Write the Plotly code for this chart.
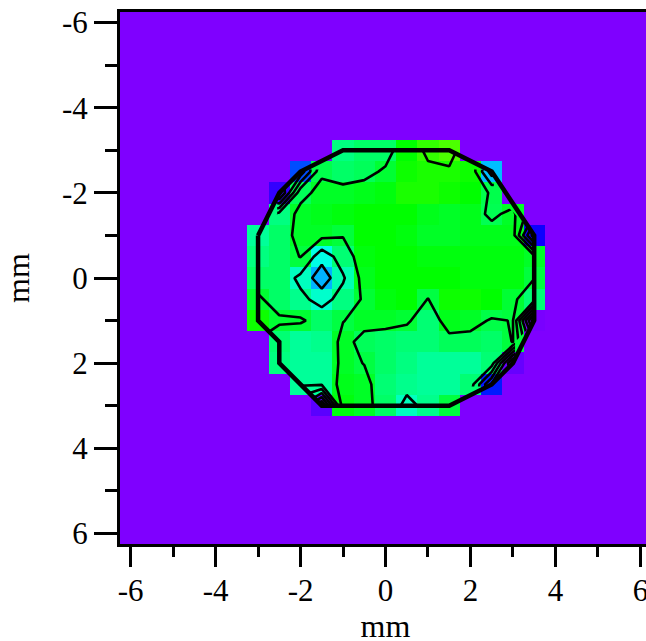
import numpy as np
import plotly.graph_objects as go

N = None
x_vals = [-3, -2.5, -2, -1.5, -1, -0.5, 0, 0.5, 1, 1.5, 2, 2.5, 3, 3.5]
y_vals = [-3, -2.5, -2, -1.5, -1, -0.5, 0, 0.5, 1, 1.5, 2, 2.5, 3]
z_m30 = [N, N, N, N, 2.5, 2.6, 2.6, 3.0, 3.2, 3.3, N, N, N, N]
z_m25 = [N, N, 1.3, 2.7, 2.6, 2.65, 2.8, 3.05, 3.1, 3.1, 3.05, 1.75, N, N]
z_m20 = [N, .6, 2.65, 2.85, 2.85, 2.9, 2.95, 3.1, 3.1, 3.05, 3.0, 2.7, N, N]
z_m15 = [N, 2.5, 2.85, 2.9, 2.95, 3, 3, 3, 2.9, 2.85, 2.9, 2.68, 2.85, N]
z_m10 = [2.4, 2.6, 2.85, 2.85, 2.77, 3, 3, 2.95, 2.85, 2.85, 2.9, 2.9, 2.9, .9]
z_m05 = [2.5, 2.6, 2.76, 2.1, 2.55, 2.95, 3, 3, 2.95, 2.95, 2.95, 2.95, 2.95, 2.85]
z_p00 = [2.6, 2.6, 2.25, 1.7, 2.3, 2.9, 3, 3, 3, 3, 2.95, 2.95, 2.95, 2.76]
z_p05 = [2.8, 2.6, 2.45, 2.2, 2.5, 2.8, 2.95, 3, 2.74, 3.05, 3.05, 3, 2.8, 2.55]
z_p10 = [3.05, 2.8, 2.8, 2.6, 2.74, 2.85, 2.85, 2.8, 2.55, 2.9, 2.85, 2.72, 2.76, .05]
z_p15 = [N, 2.55, 2.4, 2.45, 2.85, 2.65, 2.6, 2.55, 2.55, 2.65, 2.65, 2.6, 2.76, N]
z_p20 = [N, 2.5, 2.4, 2.4, 2.85, 2.74, 2.6, 2.5, 2.4, 2.4, 2.4, 2.55, .2, N]
z_p25 = [N, N, 2.4, 2.4, 2.9, 2.85, 2.55, 2.45, 2.4, 2.4, 2.55, 1.1, N, N]
z_p30 = [N, N, N, .3, 2.95, 2.85, 2.6, 2.25, 2.45, 2.75, N, N, N, N]
z_rows = [z_m30, z_m25, z_m20, z_m15, z_m10, z_m05, z_p00, z_p05, z_p10, z_p15, z_p20, z_p25, z_p30]

hull_x = [-3, -2.5, -2, -1, 1.5, 2.5, 3.5, 3.5, 3, 2.5, 1.5, -1.5, -2, -2.5, -2.5, -3, -3]
hull_y = [-1, -2, -2.5, -3, -3, -2.5, -1, 1, 2, 2.5, 3, 3, 2.5, 2, 1.5, 1, -1]

tick_vals = [-6, -4, -2, 0, 2, 4, 6]
tick_text = ["-6", "-4", "-2", "0", "2", "4", "6"]
grid = [-6 + 0.5 * i for i in range(25)]

# full image grid: background value 0 outside the measured disc
z = np.array(z_rows, dtype=float)
full = np.zeros((25, 25))
for j, yy in enumerate(y_vals):
    for i, xx in enumerate(x_vals):
        if not np.isnan(z[j, i]):
            full[grid.index(yy), grid.index(xx)] = z[j, i]

scale = [[0, "#7f00ff"], [0.25, "#0000ff"], [0.5, "#00ffff"], [0.75, "#00ff00"], [1, "#ffff00"]]
fig = go.Figure()
fig.add_trace(go.Heatmap(x=grid, y=grid, z=full, zmin=0, zmax=4, colorscale=scale,
                         showscale=False, hoverinfo="skip"))
fig.add_trace(go.Contour(x=x_vals, y=y_vals, z=z, showscale=False, connectgaps=False,
                         contours=dict(coloring="none", start=0.35, end=3.15, size=0.4),
                         line=dict(color="black", width=2.6, smoothing=0), hoverinfo="skip"))
fig.add_trace(go.Scatter(x=hull_x, y=hull_y, mode="lines", line=dict(color="black", width=4.5),
                         hoverinfo="skip", showlegend=False))

font = dict(family="Liberation Serif", size=31, color="black")
title_font = dict(family="Liberation Serif", size=32, color="black")
fig.update_xaxes(range=[-6.25, 6.25], tickmode="array", tickvals=tick_vals, ticktext=tick_text,
                 ticks="outside", ticklen=20, tickwidth=2.5, tickcolor="black", tickfont=font,
                 ticklabelstandoff=-3,
                 minor=dict(tickmode="linear", tick0=0, dtick=1, ticks="outside", ticklen=10, tickwidth=2.5, tickcolor="black"),
                 showline=True, linecolor="black", linewidth=3, mirror=True, showgrid=False, zeroline=False,
                 title=dict(text="mm", font=title_font, standoff=8))
fig.update_yaxes(range=[6.25, -6.25], tickmode="array", tickvals=tick_vals, ticktext=tick_text,
                 ticks="outside", ticklen=23, tickwidth=2.5, tickcolor="black", tickfont=font,
                 minor=dict(tickmode="linear", tick0=0, dtick=1, ticks="outside", ticklen=12, tickwidth=2.5, tickcolor="black"),
                 showline=True, linecolor="black", linewidth=3, mirror=True, showgrid=False, zeroline=False,
                 title=dict(text="mm", font=title_font, standoff=24))
fig.update_layout(width=660, height=652, margin=dict(l=120, r=6, t=10, b=108),
                  paper_bgcolor="white", plot_bgcolor="#7f00ff", showlegend=False)
fig.write_html("out.html", config=dict(displayModeBar=False),
               post_script="document.documentElement.style.overflow='hidden';document.body.style.overflow='hidden';document.body.style.margin='0';")
